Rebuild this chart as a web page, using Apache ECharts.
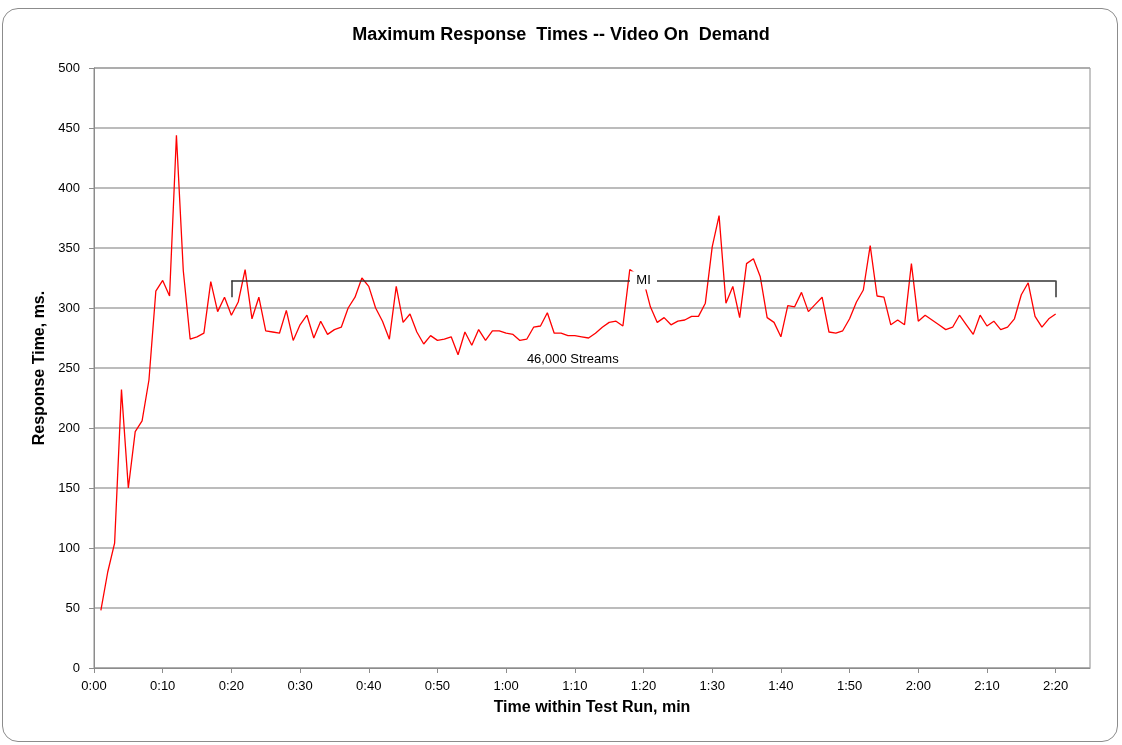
<!DOCTYPE html>
<html>
<head>
<meta charset="utf-8">
<script src="https://cdn.jsdelivr.net/npm/echarts@6/dist/echarts.min.js"></script>
<style>
  html, body { margin: 0; padding: 0; background: #fff; }
  #frame {
    position: absolute; left: 2px; top: 8px; width: 1114px; height: 732px;
    border: 1.5px solid #8c8c8c; border-radius: 16px; background: #fff;
  }
  #main { position: absolute; left: 0; top: 0; width: 1122px; height: 745px; }
</style>
</head>
<body>
<div id="frame"></div>
<div id="main"></div>
<script>
// max response time (ms), one sample per minute, 0:01 .. 2:20
var responseMs = [
  48, 80, 104, 232, 150, 197, 206, 240, 314, 323,
  310, 444, 331, 274, 276, 279, 322, 297, 309, 294,
  305, 332, 291, 309, 281, 280, 279, 298, 273, 286,
  294, 275, 289, 278, 282, 284, 300, 309, 325, 318,
  300, 289, 274, 318, 288, 295, 280, 270, 277, 273,
  274, 276, 261, 280, 269, 282, 273, 281, 281, 279,
  278, 273, 274, 284, 285, 296, 279, 279, 277, 277,
  276, 275, 279, 284, 288, 289, 285, 332, 328, 323,
  301, 288, 292, 286, 289, 290, 293, 293, 304, 351,
  377, 304, 318, 292, 337, 341, 326, 292, 288, 276,
  302, 301, 313, 297, 303, 309, 280, 279, 281, 291,
  305, 315, 352, 310, 309, 286, 290, 286, 337, 289,
  294, 290, 286, 282, 284, 294, 286, 278, 294, 285,
  289, 282, 284, 291, 311, 321, 293, 284, 291, 295
];
var firstMinute = 1;
var xTickLabels = ['0:00', '0:10', '0:20', '0:30', '0:40', '0:50', '1:00', '1:10',
                   '1:20', '1:30', '1:40', '1:50', '2:00', '2:10', '2:20'];
var yTickLabels = [0, 50, 100, 150, 200, 250, 300, 350, 400, 450, 500];

// "MI" bracket: from minute 20 to 140 at 323 ms, legs down to 309 ms
var miSpan = [20, 140];
var miLevel = [323, 309];
var miLabel = 'MI';
var streamsNote = ['46,000 Streams', 69.7, 257];

var seriesData = responseMs.map(function (v, i) { return [firstMinute + i, v]; });

var myChart = echarts.init(document.getElementById('main'));
var font = 'Liberation Sans, Arial, sans-serif';

var option = {
  backgroundColor: 'transparent',
  animation: false,
  title: {
    text: 'Maximum Response  Times -- Video On  Demand',
    left: 'center',
    top: 21,
    textStyle: { fontFamily: font, fontSize: 18, fontWeight: 'bold', color: '#000' }
  },
  grid: {
    left: 94, right: 32, top: 68, bottom: 77,
    show: true, borderColor: '#8c8c8c', borderWidth: 1
  },
  xAxis: {
    type: 'value',
    min: 0, max: 145, interval: 10,
    name: 'Time within Test Run, min',
    nameLocation: 'middle',
    nameGap: 32,
    nameTextStyle: { fontFamily: font, fontSize: 16, fontWeight: 'bold', color: '#000' },
    axisLine: { lineStyle: { color: '#8c8c8c', width: 1 } },
    axisTick: { show: true, length: 5, lineStyle: { color: '#8c8c8c' } },
    axisLabel: {
      margin: 12, fontFamily: font, fontSize: 13, color: '#000',
      showMaxLabel: false,
      formatter: function (v) { return v % 10 === 0 ? xTickLabels[v / 10] : ''; }
    },
    splitLine: { show: false }
  },
  yAxis: {
    type: 'value',
    min: 0, max: 500, interval: 50,
    name: 'Response Time, ms.',
    nameLocation: 'middle',
    nameGap: 45,
    nameTextStyle: { fontFamily: font, fontSize: 16, fontWeight: 'bold', color: '#000' },
    axisLine: { show: true, lineStyle: { color: '#8c8c8c', width: 1 } },
    axisTick: { show: true, length: 5, lineStyle: { color: '#8c8c8c' } },
    axisLabel: {
      margin: 14, fontFamily: font, fontSize: 13, color: '#000',
      formatter: function (v) { return String(yTickLabels[v / 50]); }
    },
    splitLine: { lineStyle: { color: '#a6a6a6', width: 1.5 } }
  },
  series: [
    {
      name: 'Max Response',
      type: 'line',
      data: seriesData,
      symbol: 'none',
      z: 2,
      lineStyle: { color: '#ff0000', width: 1.3 },
      markLine: {
        silent: true,
        symbol: 'none',
        z: 3,
        label: { show: false },
        lineStyle: { color: '#333', width: 1.5, type: 'solid' },
        data: [
          [{ coord: [miSpan[0], miLevel[0]] }, { coord: [miSpan[1], miLevel[0]] }],
          [{ coord: [miSpan[0], miLevel[0]] }, { coord: [miSpan[0], miLevel[1]] }],
          [{ coord: [miSpan[1], miLevel[0]] }, { coord: [miSpan[1], miLevel[1]] }]
        ]
      }
    },
    {
      name: 'notes',
      type: 'scatter',
      data: [],
      z: 10,
      markPoint: {
        silent: true,
        z: 10,
        data: [
          {
            coord: [(miSpan[0] + miSpan[1]) / 2, miLevel[0]],
            symbol: 'rect', symbolSize: [27, 18],
            itemStyle: { color: '#fff' },
            label: { show: true, position: 'inside', formatter: miLabel,
                     fontFamily: font, fontSize: 13, color: '#000' }
          },
          {
            coord: [streamsNote[1], streamsNote[2]],
            symbol: 'rect', symbolSize: [1, 1],
            itemStyle: { color: 'rgba(0,0,0,0)' },
            label: { show: true, position: 'inside', formatter: streamsNote[0],
                     fontFamily: font, fontSize: 13, color: '#000' }
          }
        ]
      }
    }
  ]
};
myChart.setOption(option);
</script>
</body>
</html>
